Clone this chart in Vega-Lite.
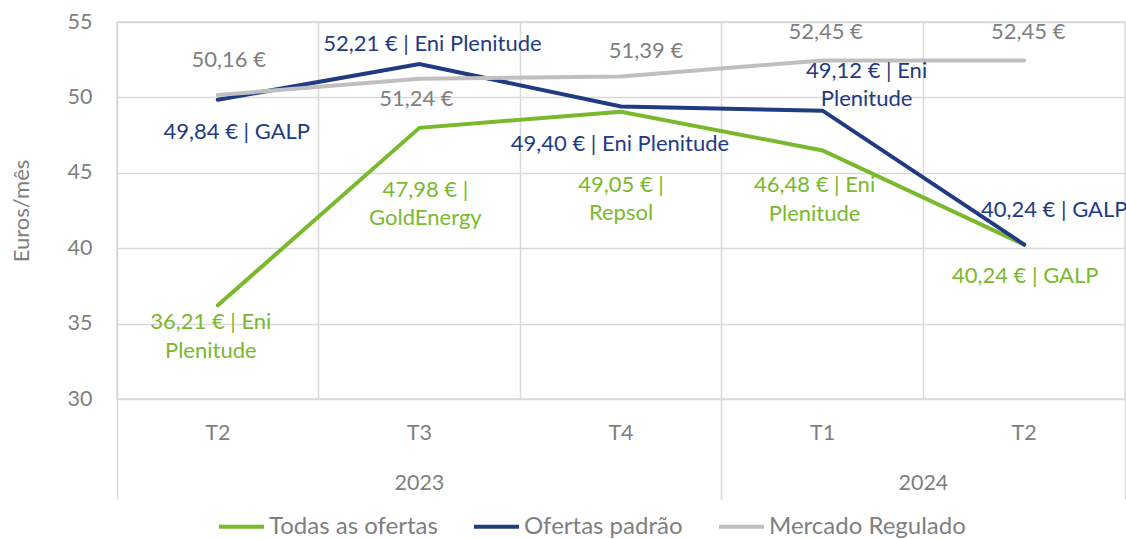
{
  "$schema": "https://vega.github.io/schema/vega-lite/v6.json",
  "width": 1008,
  "height": 377,
  "autosize": {"type": "none"},
  "padding": {"left": 117, "top": 22, "right": 1, "bottom": 140},
  "background": "white",
  "config": {
    "font": "Lato",
    "view": {"stroke": "#D9D9D9", "strokeWidth": 1.5}
  },
  "data": {
    "values": [
      {"q": "T2 2023", "serie": "Todas as ofertas", "v": 36.21, "label": "36,21 € | Eni\nPlenitude"},
      {"q": "T3 2023", "serie": "Todas as ofertas", "v": 47.98, "label": "47,98 € |\nGoldEnergy"},
      {"q": "T4 2023", "serie": "Todas as ofertas", "v": 49.05, "label": "49,05 € |\nRepsol"},
      {"q": "T1 2024", "serie": "Todas as ofertas", "v": 46.48, "label": "46,48 € | Eni\nPlenitude"},
      {"q": "T2 2024", "serie": "Todas as ofertas", "v": 40.24, "label": "40,24 € | GALP"},
      {"q": "T2 2023", "serie": "Ofertas padrão", "v": 49.84, "label": "49,84 € | GALP"},
      {"q": "T3 2023", "serie": "Ofertas padrão", "v": 52.21, "label": "52,21 € | Eni Plenitude"},
      {"q": "T4 2023", "serie": "Ofertas padrão", "v": 49.40, "label": "49,40 € | Eni Plenitude"},
      {"q": "T1 2024", "serie": "Ofertas padrão", "v": 49.12, "label": "49,12 € | Eni\nPlenitude"},
      {"q": "T2 2024", "serie": "Ofertas padrão", "v": 40.24, "label": "40,24 € | GALP"},
      {"q": "T2 2023", "serie": "Mercado Regulado", "v": 50.16, "label": "50,16 €"},
      {"q": "T3 2023", "serie": "Mercado Regulado", "v": 51.24, "label": "51,24 €"},
      {"q": "T4 2023", "serie": "Mercado Regulado", "v": 51.39, "label": "51,39 €"},
      {"q": "T1 2024", "serie": "Mercado Regulado", "v": 52.45, "label": "52,45 €"},
      {"q": "T2 2024", "serie": "Mercado Regulado", "v": 52.45, "label": "52,45 €"}
    ]
  },
  "encoding": {
    "y": {
      "field": "v",
      "type": "quantitative",
      "scale": {"domain": [30, 55], "nice": false, "zero": false},
      "axis": {
        "values": [30, 35, 40, 45, 50, 55],
        "grid": true,
        "gridColor": "#D9D9D9",
        "gridWidth": 1.5,
        "ticks": false,
        "domain": false,
        "labelFontSize": 21.5,
        "labelColor": "#7F7F7F",
        "labelPadding": 25,
        "title": "Euros/mês",
        "titleFontSize": 22,
        "titleColor": "#7F7F7F",
        "titleFontWeight": "normal",
        "titlePadding": 34
      }
    }
  },
  "layer": [
    {
      "mark": {"type": "line", "strokeWidth": 4, "strokeCap": "round"},
      "encoding": {
        "x": {
          "field": "q",
          "type": "ordinal",
          "sort": null,
          "scale": {"type": "band", "domain": ["T2 2023", "T3 2023", "T4 2023", "T1 2024", "T2 2024"], "paddingInner": 0, "paddingOuter": 0},
          "axis": {
            "orient": "bottom",
            "bandPosition": 0,
            "grid": true,
            "gridColor": "#D9D9D9",
            "gridWidth": 1.5,
            "ticks": false,
            "domain": false,
            "labelExpr": "split(datum.value, ' ')[0]",
            "labelFontSize": 21.5,
            "labelColor": "#7F7F7F",
            "labelPadding": 23,
            "labelAngle": 0,
            "title": null
          }
        },
        "color": {
          "field": "serie",
          "type": "nominal",
          "sort": null,
          "scale": {"domain": ["Todas as ofertas", "Ofertas padrão", "Mercado Regulado"], "range": ["#7AB92D", "#1F3B82", "#BFBFBF"]},
          "legend": {
            "orient": "none",
            "legendX": 100,
            "legendY": 480,
            "direction": "horizontal",
            "title": null,
            "labelFontSize": 24,
            "labelColor": "#7F7F7F",
            "labelLimit": 400,
            "symbolType": "stroke",
            "symbolStrokeWidth": 4,
            "symbolSize": 2025,
            "columnPadding": 28,
            "labelOffset": 3
          }
        }
      }
    },
    {
      "transform": [{"filter": "datum.serie == 'Mercado Regulado'"}],
      "mark": {
        "type": "text",
        "fontSize": 22,
        "color": "#7F7F7F",
        "lineBreak": "\n",
        "lineHeight": 28.5,
        "baseline": "middle",
        "dx": {"expr": "datum.q=='T2 2023'?11:datum.q=='T3 2023'?-3:datum.q=='T4 2023'?25:datum.q=='T1 2024'?3:4"},
        "dy": {"expr": "datum.q=='T2 2023'?-35:datum.q=='T3 2023'?20:datum.q=='T4 2023'?-25:-28"}
      },
      "encoding": {
        "x": {
          "field": "q",
          "type": "ordinal",
          "sort": null,
          "axis": {
            "orient": "bottom",
            "values": ["T4 2023", "T2 2024"],
            "bandPosition": 1,
            "grid": false,
            "ticks": true,
            "tickSize": 100,
            "tickColor": "#D9D9D9",
            "tickWidth": 1.5,
            "domain": false,
            "labelExpr": "split(datum.value, ' ')[1]",
            "labelOffset": {"condition": {"test": "datum.value == 'T4 2023'", "value": -201.6}, "value": -100.8},
            "labelPadding": -27,
            "labelFontSize": 21.5,
            "labelColor": "#7F7F7F",
            "labelAngle": 0,
            "title": null
          }
        },
        "text": {"field": "label"}
      }
    },
    {
      "transform": [{"filter": "datum.serie == 'Ofertas padrão'"}],
      "mark": {
        "type": "text",
        "fontSize": 22,
        "color": "#1F3B82",
        "lineBreak": "\n",
        "lineHeight": 28.5,
        "baseline": "middle",
        "dx": {"expr": "datum.q=='T2 2023'?19:datum.q=='T3 2023'?13:datum.q=='T4 2023'?-1:datum.q=='T1 2024'?44:30"},
        "dy": {"expr": "datum.q=='T2 2023'?32:datum.q=='T3 2023'?-20:datum.q=='T4 2023'?38:datum.q=='T1 2024'?-40:-35"}
      },
      "encoding": {
        "x": {
          "field": "q",
          "type": "ordinal",
          "sort": null,
          "axis": {
            "orient": "bottom",
            "values": ["T2 2023"],
            "bandPosition": 0,
            "grid": false,
            "ticks": true,
            "tickSize": 100,
            "tickColor": "#D9D9D9",
            "tickWidth": 1.5,
            "domain": false,
            "labels": false,
            "title": null
          }
        },
        "text": {"field": "label"}
      }
    },
    {
      "transform": [{"filter": "datum.serie == 'Todas as ofertas'"}],
      "mark": {
        "type": "text",
        "fontSize": 22,
        "color": "#7AB92D",
        "lineBreak": "\n",
        "lineHeight": 28.5,
        "baseline": "middle",
        "dx": {"expr": "datum.q=='T2 2023'?-7:datum.q=='T3 2023'?6:datum.q=='T4 2023'?0:datum.q=='T1 2024'?-8:1"},
        "dy": {"expr": "datum.q=='T2 2023'?17:datum.q=='T3 2023'?62:datum.q=='T4 2023'?73:datum.q=='T1 2024'?35:31"}
      },
      "encoding": {
        "x": {"field": "q", "type": "ordinal", "sort": null, "axis": null},
        "text": {"field": "label"}
      }
    }
  ],
  "resolve": {"axis": {"x": "independent"}}
}
